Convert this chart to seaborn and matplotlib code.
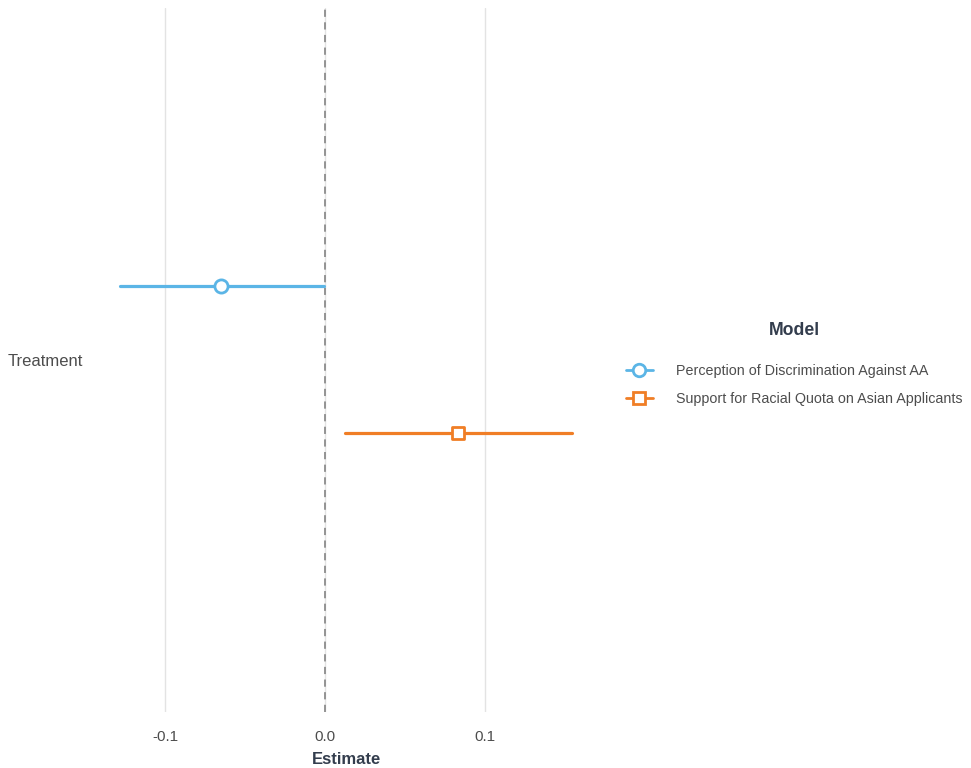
import matplotlib
matplotlib.use("Agg")
import matplotlib.pyplot as plt
from matplotlib.lines import Line2D
import numpy as np
import pandas as pd
import seaborn as sns

# Coefficient estimates with 95% confidence intervals
models = ["Perception of Discrimination Against AA",
          "Support for Racial Quota on Asian Applicants"]
term = "Treatment"
estimates = [-0.065, 0.083]
ci_low = [-0.128, 0.012]
ci_high = [-0.001, 0.154]

colors = ["#5BB5E6", "#F07E26"]
markers = ["o", "s"]
dodge = [-0.125, 0.125]

sns.set_theme(style="white")
plt.rcParams["font.family"] = ["Liberation Sans", "DejaVu Sans"]

fig = plt.figure(figsize=(9.71, 7.68), dpi=100)
ax = fig.add_axes([0.101, 0.073, 0.511, 0.917])

df = pd.DataFrame({"model": models, "estimate": estimates,
                   "low": ci_low, "high": ci_high, "pos": dodge})

# interval segments drawn as two-point lines per model
seg = pd.concat([
    df[["model", "pos"]].assign(x=df["low"]),
    df[["model", "pos"]].assign(x=df["high"]),
]).sort_values("model")
sns.lineplot(data=seg, x="x", y="pos", hue="model", units="model",
             estimator=None, palette=colors, hue_order=models,
             linewidth=2.3, legend=False, ax=ax, sort=False, zorder=3)

# point estimates
for i, m in enumerate(models):
    sub = df[df["model"] == m]
    sns.scatterplot(data=sub, x="estimate", y="pos", marker=markers[i],
                    s=90 if markers[i] == "o" else 70,
                    facecolor="white", edgecolor=colors[i], linewidth=2.0,
                    ax=ax, zorder=4, legend=False)

ax.axvline(0, color="#8c8c8c", linestyle=(0, (4, 3)), linewidth=1.3, zorder=2)

ax.set_xlim(-0.142, 0.168)
ax.set_ylim(0.6, -0.6)
ax.set_xticks([-0.1, 0.0, 0.1])
ax.set_xticklabels(["-0.1", "0.0", "0.1"])
ax.set_yticks([0])
ax.set_yticklabels([term])
ax.grid(axis="x", color="#e3e3e3", linewidth=1.0)
ax.grid(axis="y", visible=False)
for s in ax.spines.values():
    s.set_visible(False)
ax.tick_params(axis="x", length=0, labelsize=11, labelcolor="#4d4d4d", pad=13)
ax.tick_params(axis="y", length=0, labelsize=12, labelcolor="#4d4d4d", pad=10.5)
ax.set_xlabel("Estimate", fontsize=12, fontweight="bold", color="#333d4d", labelpad=6)
ax.set_ylabel("")

handles = [Line2D([0], [0], color=colors[i], marker=markers[i], markersize=9 if i == 0 else 8,
                  markerfacecolor="white", markeredgewidth=2.0, linewidth=2.0)
           for i in range(len(models))]
leg = fig.legend(handles, models, loc="upper left", bbox_to_anchor=(0.6447, 1 - 322 / 768),
                 frameon=False, title="Model", fontsize=10.3, handlelength=1.88,
                 handletextpad=1.6, labelspacing=0.96, labelcolor="#4d4d4d",
                 borderpad=0, borderaxespad=0)
leg.get_title().set_fontweight("bold")
leg.get_title().set_fontsize(12.7)
leg.get_title().set_color("#333d4d")
leg._legend_box.sep = 18

fig.savefig("out.png", dpi=100)
